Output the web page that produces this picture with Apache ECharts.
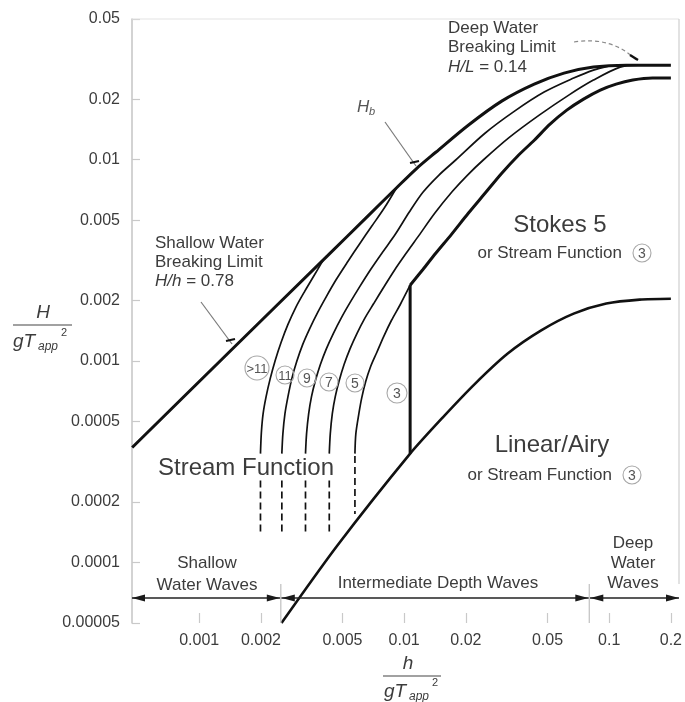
<!DOCTYPE html>
<html>
<head>
<meta charset="utf-8">
<script src="https://cdn.jsdelivr.net/npm/echarts@6/dist/echarts.min.js"></script>
<style>
  html, body { margin: 0; padding: 0; background: #ffffff; }
  #chart { width: 685px; height: 702px; }
</style>
</head>
<body>
<div id="chart"></div>
<script>
// Axis ticks (dimensionless h/gT_app^2 and H/gT_app^2)
const xTickValues = [0.001, 0.002, 0.005, 0.01, 0.02, 0.05, 0.1, 0.2];
const yTickValues = [0.00005, 0.0001, 0.0002, 0.0005, 0.001, 0.002, 0.005, 0.01, 0.02, 0.05];
const xRange = [0.00047, 0.2];
const yRange = [0.00005, 0.05];

// Breaking limit: shallow-water line H/h = 0.78 blending into H_b and the deep-water limit
const breakingLimit = [
  [0.000471, 0.000372], [0.00139, 0.0011], [0.00422, 0.00333], [0.00657, 0.00519],
  [0.00916, 0.00724], [0.01142, 0.00899], [0.01426, 0.01089], [0.02054, 0.01484],
  [0.0299, 0.01955], [0.0431, 0.02375], [0.0602, 0.02693], [0.0838, 0.02885],
  [0.121, 0.0295], [0.2, 0.0295]
];

// Stream-function order curves (solid parts)
const orderGt11 = [
  [0.00199, 0.000347], [0.00201, 0.000441], [0.00205, 0.000548], [0.00212, 0.000666],
  [0.00222, 0.000818], [0.00235, 0.00101], [0.00251, 0.00124], [0.00271, 0.00152],
  [0.00296, 0.00185], [0.00327, 0.00222], [0.00361, 0.00263], [0.00403, 0.00318]
];
const order11 = [
  [0.00253, 0.000347], [0.00256, 0.000436], [0.00262, 0.000548], [0.00271, 0.000666],
  [0.00283, 0.000818], [0.00299, 0.000994], [0.0032, 0.00121], [0.00346, 0.00145],
  [0.00378, 0.00174], [0.00417, 0.00209], [0.00466, 0.00254], [0.00532, 0.00313],
  [0.00608, 0.00384], [0.00694, 0.00467], [0.00801, 0.00577], [0.00916, 0.00724]
];
const order9 = [
  [0.0033, 0.000347], [0.00334, 0.000436], [0.00342, 0.000548], [0.00353, 0.000666],
  [0.00369, 0.0008], [0.0039, 0.000961], [0.00417, 0.00115], [0.00451, 0.00137],
  [0.00492, 0.00163], [0.00544, 0.00195], [0.00608, 0.00235], [0.00686, 0.00285],
  [0.00784, 0.00347], [0.00905, 0.00426], [0.01057, 0.00548], [0.01234, 0.00689],
  [0.01474, 0.00837], [0.01778, 0.00994], [0.02478, 0.01354], [0.03455, 0.01743],
  [0.04816, 0.02167], [0.06712, 0.02544], [0.08377, 0.02788], [0.0989, 0.02919]
];
const order7 = [
  [0.00431, 0.000347], [0.00436, 0.000436], [0.00446, 0.000548], [0.00461, 0.000666],
  [0.00482, 0.0008], [0.00509, 0.000961], [0.00544, 0.00115], [0.00588, 0.00137],
  [0.00642, 0.00163], [0.0071, 0.00193], [0.00793, 0.00232], [0.00895, 0.00282],
  [0.01022, 0.00343], [0.01181, 0.00421], [0.01409, 0.00542], [0.0172, 0.00697],
  [0.02032, 0.00837], [0.02424, 0.00994], [0.03268, 0.01294], [0.04557, 0.01665],
  [0.06351, 0.02094], [0.08377, 0.02486], [0.113, 0.02885], [0.1378, 0.0295]
];
const order5 = [
  [0.00575, 0.000347], [0.00581, 0.000436], [0.00601, 0.000548], [0.00621, 0.000658],
  [0.00649, 0.000791], [0.00686, 0.000939], [0.00734, 0.0011], [0.00793, 0.00132],
  [0.00866, 0.00159], [0.00957, 0.00191], [0.01069, 0.00238]
];

// Dashed continuations below the solid order curves: [h/gT^2, top, bottom]
const orderDashes = [
  [0.00199, 0.000255, 0.00014],
  [0.00253, 0.000255, 0.00014],
  [0.0033, 0.000255, 0.00014],
  [0.00431, 0.000255, 0.00014],
  [0.00575, 0.000338, 0.000174]
];

// Stokes 5 region boundary and its vertical edge
const stokesBoundary = [
  [0.01069, 0.00238], [0.01234, 0.00285], [0.01425, 0.00343], [0.01701, 0.00426],
  [0.02054, 0.00542], [0.02478, 0.00681], [0.02992, 0.00857], [0.03571, 0.01041],
  [0.04311, 0.0125], [0.05146, 0.01502], [0.06212, 0.01763], [0.07499, 0.02],
  [0.09052, 0.02217], [0.1081, 0.02374], [0.1304, 0.02486], [0.1627, 0.02544], [0.2, 0.02544]
];
const stokesEdge = [[0.01069, 0.00238], [0.01069, 0.000347]];

// Linear/Airy region boundary
const linearBoundary = [
  [0.00252, 0.00005], [0.00471, 0.000121], [0.01069, 0.000347], [0.0154, 0.000524],
  [0.0222, 0.000773], [0.032, 0.00109], [0.0466, 0.00142], [0.0671, 0.00172],
  [0.0968, 0.00193], [0.1409, 0.00202], [0.2, 0.00204]
];

// Depth classes along the bottom
const shallowLimit = 0.0025;
const deepLimit = 0.08;

const L = Math.log10;
const toLog = pts => pts.map(p => [L(p[0]), L(p[1])]);
const fmt = v => String(parseFloat(Math.pow(10, v).toPrecision(1)));

const FONT = '"Liberation Sans", Arial, Helvetica, sans-serif';
const INK = '#111111';
const TXT = '#3c3c3c';

function line(name, pts, width, smooth) {
  return {
    name, type: 'line', data: toLog(pts), showSymbol: false, symbol: 'none',
    smooth: smooth === undefined ? 0.3 : smooth, silent: true,
    lineStyle: { color: INK, width: width }, z: 3
  };
}

const series = [
  line('breaking', breakingLimit, 3, 0.3),
  line('>11', orderGt11, 1.7),
  line('11', order11, 1.7),
  line('9', order9, 1.7),
  line('7', order7, 1.7),
  line('5', order5, 1.7),
  line('stokes', stokesBoundary, 3, 0.3),
  line('stokesEdge', stokesEdge, 3, false),
  line('linear', linearBoundary, 2.6, 0.25)
];
orderDashes.forEach((d, i) => {
  series.push({
    name: 'dash' + i, type: 'line', showSymbol: false, symbol: 'none', silent: true,
    data: toLog([[d[0], d[1]], [d[0], d[2]]]),
    lineStyle: { color: INK, width: 1.7, type: [7, 4] }, z: 3
  });
});

const chart = echarts.init(document.getElementById('chart'), null, { renderer: 'canvas' });

const GRID = { left: 132, right: 6, top: 19, bottom: 79 };

chart.setOption({
  animation: false,
  backgroundColor: '#ffffff',
  grid: GRID,
  xAxis: {
    type: 'value', min: L(xRange[0]), max: L(xRange[1]),
    axisLine: { show: false },
    splitLine: { show: false },
    axisTick: { show: true, inside: true, length: 10, customValues: xTickValues.map(L),
      lineStyle: { color: '#c9c9c9', width: 1.2 } },
    axisLabel: { customValues: xTickValues.map(L), formatter: fmt, margin: 10,
      fontFamily: FONT, fontSize: 16, color: TXT }
  },
  yAxis: {
    type: 'value', min: L(yRange[0]), max: L(yRange[1]),
    axisLine: { show: true, lineStyle: { color: '#c4c4c4', width: 1.5 } },
    splitLine: { show: false },
    axisTick: { show: true, inside: true, length: 8, customValues: yTickValues.map(L),
      lineStyle: { color: '#c9c9c9', width: 1.2 } },
    axisLabel: { customValues: yTickValues.map(L), formatter: fmt, margin: 12,
      fontFamily: FONT, fontSize: 16, color: TXT }
  },
  series: series
});

// ---- annotations ----
const px = (x, y) => chart.convertToPixel({ gridIndex: 0 }, [L(x), L(y)]);
const gTop = GRID.top, gBottom = 702 - GRID.bottom, gRight = 685 - GRID.right, gLeft = GRID.left;

function txt(x, y, text, o) {
  o = o || {};
  return {
    type: 'text', x: x, y: y, silent: true, z: 10,
    style: {
      text: text, fill: o.fill || TXT, fontFamily: FONT, fontSize: o.size || 17,
      fontStyle: o.italic ? 'italic' : 'normal',
      textAlign: o.align || 'left', textVerticalAlign: 'middle',
      rich: o.rich
    }
  };
}
function seg(x1, y1, x2, y2, color, w, dash) {
  return {
    type: 'line', silent: true, z: 9,
    shape: { x1, y1, x2, y2 },
    style: { stroke: color, lineWidth: w, lineDash: dash || null }
  };
}
function circled(cx, cy, r, label, size) {
  return [
    { type: 'circle', silent: true, z: 8, shape: { cx, cy, r },
      style: { fill: 'rgba(255,255,255,0)', stroke: '#a8a8a8', lineWidth: 1.1 } },
    txt(cx, cy + 1, label, { align: 'center', size: size || 14, fill: '#555' })
  ];
}
function arrowHead(tipX, y, dir) {
  const b = tipX - dir * 13;
  return { type: 'polygon', silent: true, z: 9,
    shape: { points: [[tipX, y], [b, y - 3.5], [b, y + 3.5]] },
    style: { fill: '#1a1a1a' } };
}

const italic = { i: { fontStyle: 'italic', fontFamily: FONT, fontSize: 17, fill: TXT } };
const xShallow = px(shallowLimit, 0.001)[0];
const xDeep = px(deepLimit, 0.001)[0];
const arrowY = 598;

const elements = [
  // frame
  seg(gLeft, gTop, gRight, gTop, '#e4e4e4', 1.2),
  seg(gRight, gTop, gRight, 584, '#cfcfcf', 1.2),

  // deep water breaking limit
  txt(448, 28, 'Deep Water'),
  txt(448, 47, 'Breaking Limit'),
  txt(448, 67, '{i|H/L} = 0.14', { rich: italic }),
  { type: 'bezierCurve', silent: true, z: 9,
    shape: { x1: 574, y1: 42, cpx1: 612, cpy1: 36, x2: 636, y2: 60 },
    style: { stroke: '#8a8a8a', lineWidth: 1.2, lineDash: [4, 3], fill: null } },
  seg(630, 55, 638, 60, '#111', 2.4),

  // H_b pointer
  txt(357, 107, 'H', { italic: true, fill: '#555' }),
  txt(369, 112, 'b', { italic: true, size: 11, fill: '#555' }),
  seg(385, 122, 416, 166, '#7a7a7a', 1.2),
  seg(410, 163, 419, 161, '#111', 2.2),

  // shallow water breaking limit
  txt(155, 243, 'Shallow Water'),
  txt(155, 262, 'Breaking Limit'),
  txt(155, 281, '{i|H/h} = 0.78', { rich: italic }),
  seg(201, 302, 232, 344, '#7a7a7a', 1.2),
  seg(226, 341, 235, 339, '#111', 2.2),

  // region names
  txt(560, 225, 'Stokes 5', { align: 'center', size: 24 }),
  txt(622, 253, 'or Stream Function', { align: 'right' }),
  txt(246, 468, 'Stream Function', { align: 'center', size: 24 }),
  txt(552, 445, 'Linear/Airy', { align: 'center', size: 24 }),
  txt(612, 475, 'or Stream Function', { align: 'right' })
]
  .concat(circled(642, 253, 9, '3'))
  .concat(circled(632, 475, 9, '3'))
  .concat(circled(257, 368, 12, '>11', 13))
  .concat(circled(285, 375, 9, '11', 13))
  .concat(circled(307, 378, 9, '9'))
  .concat(circled(329, 382, 9, '7'))
  .concat(circled(355, 383, 9, '5'))
  .concat(circled(397, 393, 10, '3'))
  .concat([
    // depth classes
    txt(207, 563, 'Shallow', { align: 'center' }),
    txt(207, 585, 'Water Waves', { align: 'center' }),
    txt(438, 583, 'Intermediate Depth Waves', { align: 'center' }),
    txt(633, 543, 'Deep', { align: 'center' }),
    txt(633, 563, 'Water', { align: 'center' }),
    txt(633, 583, 'Waves', { align: 'center' }),
    seg(gLeft, arrowY, gRight, arrowY, '#222', 1.4),
    seg(xShallow, 584, xShallow, gBottom, '#c8c8c8', 1.4),
    seg(xDeep, 584, xDeep, gBottom, '#c8c8c8', 1.4),
    arrowHead(gLeft, arrowY, -1),
    arrowHead(xShallow - 1, arrowY, 1),
    arrowHead(xShallow + 1, arrowY, -1),
    arrowHead(xDeep - 1, arrowY, 1),
    arrowHead(xDeep + 1, arrowY, -1),
    arrowHead(gRight, arrowY, 1),

    // y-axis title H / gT_app^2
    txt(43, 313, 'H', { italic: true, size: 19, align: 'center' }),
    seg(13, 325, 72, 325, '#444', 1.2),
    txt(13, 342, 'gT', { italic: true, size: 19 }),
    txt(38, 347, 'app', { italic: true, size: 12 }),
    txt(61, 333, '2', { size: 11 }),

    // x-axis title h / gT_app^2
    txt(408, 664, 'h', { italic: true, size: 19, align: 'center' }),
    seg(383, 676, 441, 676, '#444', 1.2),
    txt(384, 692, 'gT', { italic: true, size: 19 }),
    txt(409, 697, 'app', { italic: true, size: 12 }),
    txt(432, 683, '2', { size: 11 })
  ]);

chart.setOption({ graphic: { elements: elements } });
</script>
</body>
</html>
